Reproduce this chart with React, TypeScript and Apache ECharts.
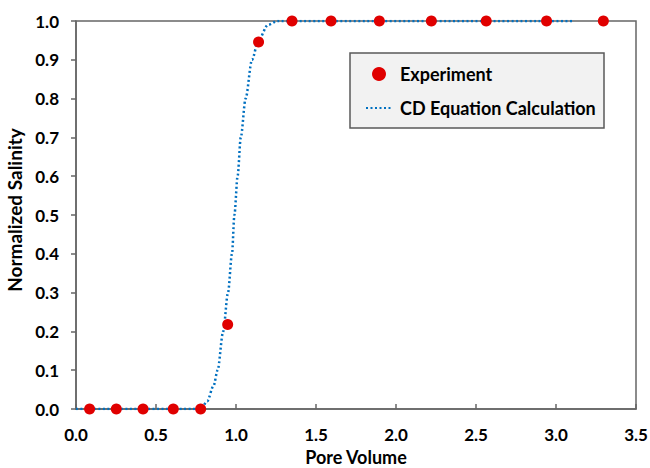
import React, { useEffect, useRef } from "react";
import * as echarts from "echarts";

const expX = [0.085, 0.252, 0.419, 0.608, 0.779, 0.948, 1.141, 1.35, 1.594, 1.896, 2.221, 2.564, 2.941, 3.296];
const expY = [0, 0, 0, 0, 0, 0.218, 0.946, 1, 1, 1, 1, 1, 1, 1];

const calcX = [0, 0.78, 0.82, 0.86, 0.885, 0.92, 0.95, 0.975, 0.99, 1.01, 1.03, 1.06, 1.1, 1.14, 1.2, 1.26, 3.11];
const calcY = [0, 0, 0.02, 0.06, 0.1, 0.2, 0.3, 0.4, 0.5, 0.6, 0.7, 0.8, 0.9, 0.95, 0.99, 1.0, 1.0];

const seriesNames = ["Experiment", "CD Equation Calculation"];
const xTitle = "Pore Volume";
const yTitle = "Normalized Salinity";

const FONT = "Lato";

export default function App() {
  const ref = useRef<HTMLDivElement>(null);
  useEffect(() => {
    if (!ref.current) return;
    const chart = echarts.init(ref.current, undefined, { renderer: "svg" });
    const axisColor = "#666666";
    chart.setOption({
      animation: false,
      backgroundColor: "#ffffff",
      grid: {
        left: 76,
        right: 14,
        top: 21,
        bottom: 59,
        containLabel: false,
        outerBoundsMode: "none",
        show: true,
        borderColor: axisColor,
        borderWidth: 1.5,
      },
      graphic: [
        {
          type: "rect",
          shape: { x: 350, y: 53, width: 254, height: 75 },
          style: { fill: "#F2F2F2", stroke: "#595959", lineWidth: 1.5 },
          z: 10,
        },
      ],
      legend: {
        orient: "vertical",
        left: 360,
        top: 58,
        itemWidth: 26,
        itemHeight: 14,
        itemGap: 12,
        z: 20,
        textStyle: {
          fontFamily: FONT,
          fontWeight: "bold",
          fontSize: 18,
          color: "#000",
          lineHeight: 22,
          padding: [0, 0, 0, 3],
        },
        data: [
          { name: seriesNames[0], icon: "circle" },
          { name: seriesNames[1], itemStyle: { opacity: 0 } },
        ],
      },
      xAxis: {
        type: "value",
        min: 0,
        max: 3.5,
        interval: 0.5,
        name: xTitle,
        nameLocation: "middle",
        nameGap: 38,
        nameTextStyle: { fontFamily: FONT, fontWeight: "bold", fontSize: 18, color: "#000" },
        axisLine: { lineStyle: { color: axisColor, width: 1.5 } },
        axisTick: { inside: true, length: 5, lineStyle: { color: axisColor, width: 1.5 } },
        axisLabel: {
          fontFamily: FONT,
          fontWeight: "bold",
          fontSize: 17,
          color: "#000",
          margin: 17,
          formatter: (v: number) => v.toFixed(1),
        },
        splitLine: { show: false },
      },
      yAxis: {
        type: "value",
        min: 0,
        max: 1,
        interval: 0.1,
        name: yTitle,
        nameLocation: "middle",
        nameGap: 50,
        nameRotate: 90,
        nameTextStyle: {
          fontFamily: FONT,
          fontWeight: "bold",
          fontSize: 19,
          color: "#000",
          padding: [0, 0, 0, 10],
        },
        axisLine: { lineStyle: { color: axisColor, width: 1.5 } },
        axisTick: { inside: false, length: 5, lineStyle: { color: axisColor, width: 1.5 } },
        axisLabel: {
          fontFamily: FONT,
          fontWeight: "bold",
          fontSize: 17,
          color: "#000",
          margin: 17,
          formatter: (v: number) => v.toFixed(1),
        },
        splitLine: { show: false },
      },
      series: [
        {
          name: seriesNames[0],
          type: "scatter",
          symbol: "circle",
          symbolSize: 11,
          itemStyle: { color: "#E00000", opacity: 1 },
          z: 4,
          data: expX.map((x, i) => [x, expY[i]]),
        },
        {
          name: seriesNames[1],
          type: "line",
          showSymbol: false,
          symbol: "none",
          smooth: 0.3,
          smoothMonotone: "x",
          lineStyle: { color: "#0070C0", width: 2.5, type: [2, 2.5] },
          itemStyle: { color: "#0070C0" },
          z: 3,
          data: calcX.map((x, i) => [x, calcY[i]]),
        },
      ],
    });
    return () => chart.dispose();
  }, []);
  return <div ref={ref} style={{ width: 650, height: 468, position: "absolute", left: 0, top: 0 }} />;
}
